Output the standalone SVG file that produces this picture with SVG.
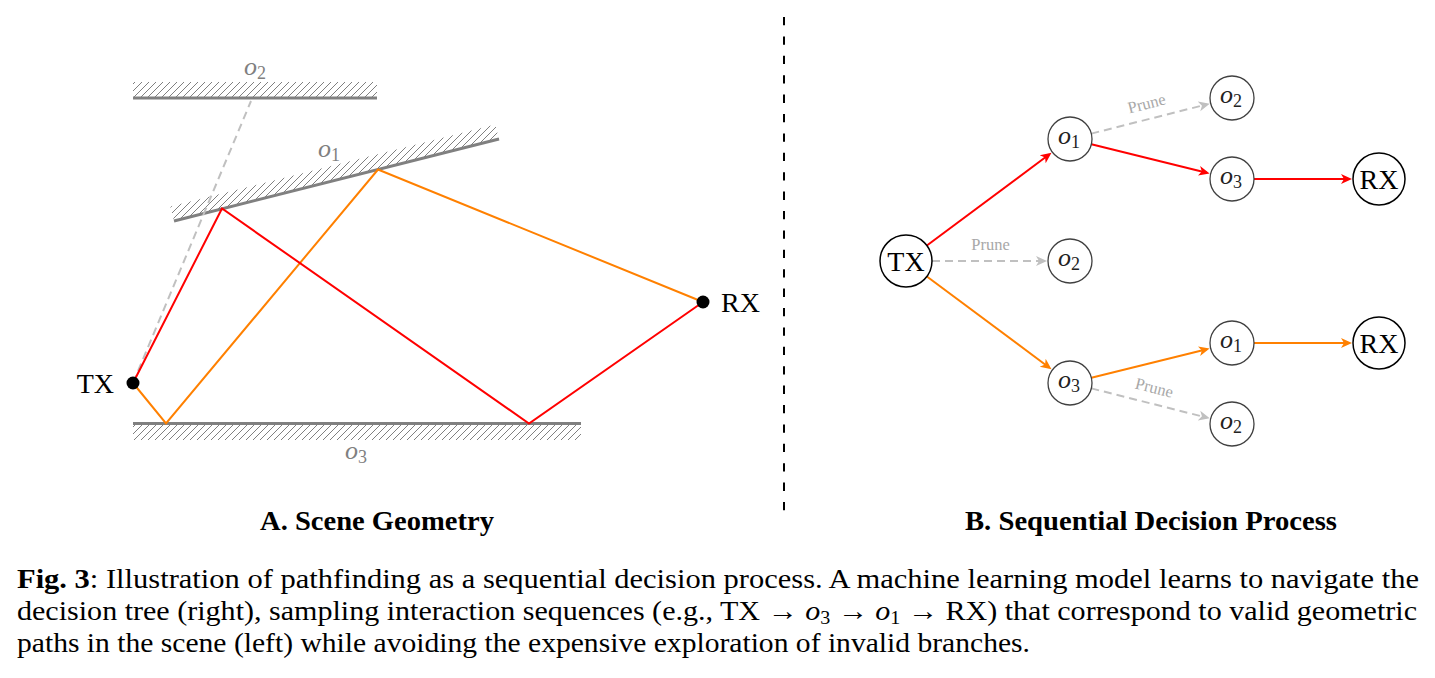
<svg xmlns="http://www.w3.org/2000/svg" width="1435" height="678" viewBox="0 0 1435 678">
<style>
.wall{stroke:#808080;stroke-width:3;fill:none}
.hatchfill{fill:url(#hatch);stroke:none}
.wlabel{font-family:"Liberation Serif",serif;font-size:26px;fill:#808080}
.red{stroke:#ff0000;stroke-width:2;fill:none}
.orange{stroke:#ff8000;stroke-width:2;fill:none}
.gdash{stroke:#c0c0c0;stroke-width:2;stroke-dasharray:8 5;fill:none}
.onode{fill:#fff;stroke:#404040;stroke-width:1.3}
.xnode{fill:#fff;stroke:#000;stroke-width:1.5}
.ntext{font-family:"Liberation Serif",serif;font-size:26px;fill:#222}
.xtext{font-family:"Liberation Serif",serif;font-size:28px;fill:#000}
.prune{font-family:"Liberation Serif",serif;font-size:16.5px;fill:#a8a8a8}
.title{font-family:"Liberation Serif",serif;font-size:27px;font-weight:bold;fill:#000}
.cap{font-family:"Liberation Serif",serif;font-size:27px;fill:#000}
.it{font-style:italic}
</style>
<defs>
<pattern id="hatch" patternUnits="userSpaceOnUse" width="7" height="7">
<path d="M-1,1 L1,-1 M0,7 L7,0 M6,8 L8,6" stroke="#808080" stroke-width="1"/>
</pattern>
<marker id="ar-red" markerUnits="userSpaceOnUse" markerWidth="12" markerHeight="12" refX="8" refY="6" orient="auto"><path d="M0,1 L11,6 L0,11 L3,6 Z" fill="#ff0000"/></marker>
<marker id="ar-orange" markerUnits="userSpaceOnUse" markerWidth="12" markerHeight="12" refX="8" refY="6" orient="auto"><path d="M0,1 L11,6 L0,11 L3,6 Z" fill="#ff8000"/></marker>
<marker id="ar-grey" markerUnits="userSpaceOnUse" markerWidth="12" markerHeight="12" refX="8" refY="6" orient="auto"><path d="M0,1 L11,6 L0,11 L3,6 Z" fill="#c0c0c0"/></marker>
</defs>
<rect width="1435" height="678" fill="#fff"/>

<!-- A. Scene geometry -->
<g id="wall-o2">
<rect class="hatchfill" x="133" y="82" width="244" height="16"/>
<line class="wall" x1="133" y1="98" x2="377" y2="98"/>
<text class="wlabel" x="255" y="75" text-anchor="middle"><tspan class="it">o</tspan><tspan font-size="18" dy="4">2</tspan></text>
</g>
<g id="wall-o1">
<polygon class="hatchfill" points="174,221 499,139 495.3,124.5 170.3,206.5"/>
<line class="wall" x1="174" y1="221" x2="499" y2="139"/>
<text class="wlabel" x="329" y="157" text-anchor="middle"><tspan class="it">o</tspan><tspan font-size="18" dy="4">1</tspan></text>
</g>
<g id="wall-o3">
<rect class="hatchfill" x="133" y="424" width="448" height="16"/>
<line class="wall" x1="133" y1="423.5" x2="581" y2="423.5"/>
<text class="wlabel" x="356" y="459" text-anchor="middle"><tspan class="it">o</tspan><tspan font-size="18" dy="4">3</tspan></text>
</g>
<g id="scene-paths">
<line class="gdash" x1="133" y1="383" x2="251" y2="101"/>
<polyline class="orange" points="133,383 166,423.5 378,169.5 703,302"/>
<polyline class="red" points="133,383 222,208.5 529,423.5 703,302"/>
</g>
<g id="scene-tx">
<circle cx="133" cy="383" r="6.5" fill="#000"/>
<text class="xtext" x="114" y="393" text-anchor="end">TX</text>
</g>
<g id="scene-rx">
<circle cx="703" cy="302" r="6.5" fill="#000"/>
<text class="xtext" x="721" y="312">RX</text>
</g>

<!-- divider -->
<line x1="784" y1="17" x2="784" y2="513" stroke="#000" stroke-width="2" stroke-dasharray="8.3 11.1"/>

<!-- B. Decision tree -->
<g id="connectors">
<line class="red" x1="926.9" y1="245.5" x2="1049.1" y2="154.5" marker-end="url(#ar-red)"/>
<line class="red" x1="1091.4" y1="144.3" x2="1206.7" y2="172.7" marker-end="url(#ar-red)"/>
<line class="red" x1="1254" y1="179" x2="1349" y2="179" marker-end="url(#ar-red)"/>
<line class="gdash" x1="1091.3" y1="133.6" x2="1206.8" y2="104.4" marker-end="url(#ar-grey)"/>
<line class="gdash" x1="932" y1="261" x2="1044" y2="261" marker-end="url(#ar-grey)"/>
<line class="orange" x1="926.9" y1="276.5" x2="1049.1" y2="367.5" marker-end="url(#ar-orange)"/>
<line class="orange" x1="1091.4" y1="377.7" x2="1206.7" y2="349.3" marker-end="url(#ar-orange)"/>
<line class="orange" x1="1254" y1="343" x2="1349" y2="343" marker-end="url(#ar-orange)"/>
<line class="gdash" x1="1091.3" y1="388.4" x2="1206.8" y2="417.6" marker-end="url(#ar-grey)"/>
<text class="prune" x="1148" y="108.8" text-anchor="middle" transform="rotate(-14.2 1148 108.8)">Prune</text>
<text class="prune" x="990.5" y="250" text-anchor="middle">Prune</text>
<text class="prune" x="1153" y="393" text-anchor="middle" transform="rotate(14.2 1153 393)">Prune</text>
</g>
<g id="node-tx">
<circle class="xnode" cx="906" cy="261" r="26"/>
<text class="xtext" x="906" y="271" text-anchor="middle">TX</text>
</g>
<g id="node-o1-top">
<circle class="onode" cx="1070" cy="139" r="22"/>
<text class="ntext" x="1069" y="143.5" text-anchor="middle"><tspan class="it">o</tspan><tspan font-size="18" dy="4.5">1</tspan></text>
</g>
<g id="node-o2-top">
<circle class="onode" cx="1232" cy="98" r="22"/>
<text class="ntext" x="1231" y="102.5" text-anchor="middle"><tspan class="it">o</tspan><tspan font-size="18" dy="4.5">2</tspan></text>
</g>
<g id="node-o3-top">
<circle class="onode" cx="1232" cy="179" r="22"/>
<text class="ntext" x="1231" y="183.5" text-anchor="middle"><tspan class="it">o</tspan><tspan font-size="18" dy="4.5">3</tspan></text>
</g>
<g id="node-rx-top">
<circle class="xnode" cx="1379" cy="179" r="26"/>
<text class="xtext" x="1379" y="189" text-anchor="middle">RX</text>
</g>
<g id="node-o2-mid">
<circle class="onode" cx="1070" cy="261" r="22"/>
<text class="ntext" x="1069" y="265.5" text-anchor="middle"><tspan class="it">o</tspan><tspan font-size="18" dy="4.5">2</tspan></text>
</g>
<g id="node-o3-bot">
<circle class="onode" cx="1070" cy="383" r="22"/>
<text class="ntext" x="1069" y="387.5" text-anchor="middle"><tspan class="it">o</tspan><tspan font-size="18" dy="4.5">3</tspan></text>
</g>
<g id="node-o1-bot">
<circle class="onode" cx="1232" cy="343" r="22"/>
<text class="ntext" x="1231" y="347.5" text-anchor="middle"><tspan class="it">o</tspan><tspan font-size="18" dy="4.5">1</tspan></text>
</g>
<g id="node-rx-bot">
<circle class="xnode" cx="1379" cy="343" r="26"/>
<text class="xtext" x="1379" y="353" text-anchor="middle">RX</text>
</g>
<g id="node-o2-bot">
<circle class="onode" cx="1232" cy="424" r="22"/>
<text class="ntext" x="1231" y="428.5" text-anchor="middle"><tspan class="it">o</tspan><tspan font-size="18" dy="4.5">2</tspan></text>
</g>

<!-- titles -->
<text class="title" x="260" y="530" textLength="234" lengthAdjust="spacingAndGlyphs">A. Scene Geometry</text>
<text class="title" x="965" y="530" textLength="372" lengthAdjust="spacingAndGlyphs">B. Sequential Decision Process</text>

<!-- caption -->
<text class="cap" x="17" y="588" textLength="1402" lengthAdjust="spacingAndGlyphs"><tspan font-weight="bold">Fig. 3</tspan>: Illustration of pathfinding as a sequential decision process. A machine learning model learns to navigate the</text>
<text class="cap" x="17" y="620" textLength="1400" lengthAdjust="spacingAndGlyphs">decision tree (right), sampling interaction sequences (e.g., TX → <tspan class="it">o</tspan><tspan font-size="18" dy="4">3</tspan><tspan dy="-4"> → </tspan><tspan class="it">o</tspan><tspan font-size="18" dy="4">1</tspan><tspan dy="-4"> → RX) that correspond to valid geometric</tspan></text>
<text class="cap" x="17" y="652" textLength="1013" lengthAdjust="spacingAndGlyphs">paths in the scene (left) while avoiding the expensive exploration of invalid branches.</text>
</svg>
